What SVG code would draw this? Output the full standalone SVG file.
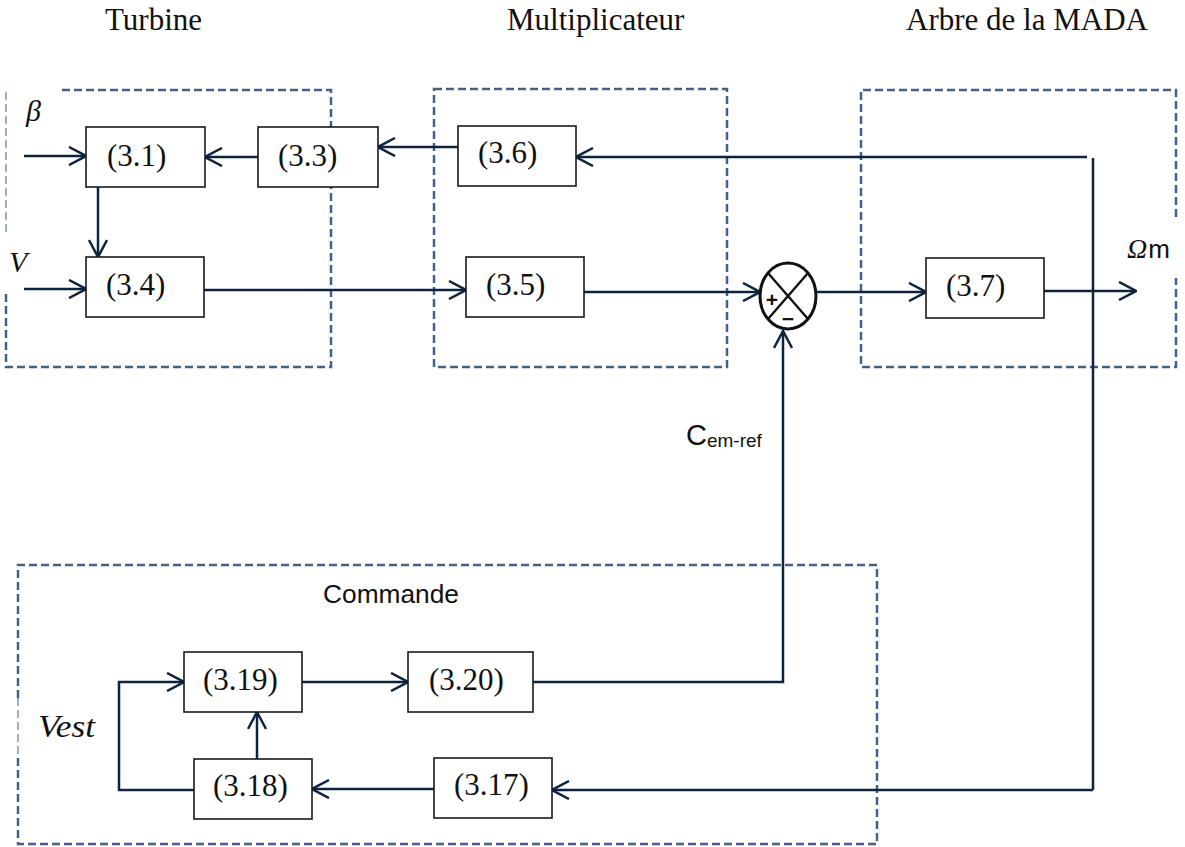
<svg xmlns="http://www.w3.org/2000/svg" width="1185" height="847" viewBox="0 0 1185 847">
<defs>
<style>
.blk{fill:#fff;stroke:#1a1a1a;stroke-width:1.6}
.lbl{font-family:"Liberation Serif","Times New Roman",serif;font-size:31px;fill:#111}
.ttl{font-family:"Liberation Serif","Times New Roman",serif;font-size:31px;fill:#111}
.sans{font-family:"Liberation Sans",Arial,sans-serif;fill:#111}
.ital{font-family:"Liberation Serif","Times New Roman",serif;font-style:italic;fill:#111}
.dash{fill:none;stroke:#41618f;stroke-width:2.5;stroke-dasharray:8 4}
.thin{fill:none;stroke:#5a78a3;stroke-width:1.2;stroke-dasharray:8 4}
.wire{fill:none;stroke:#0d2441;stroke-width:2.5}
.arr{marker-end:url(#ah)}
</style>
<marker id="ah" viewBox="0 0 20 20" refX="19" refY="10" markerWidth="20" markerHeight="20" markerUnits="userSpaceOnUse" orient="auto">
<path d="M2,1 L19,10 L2,19" fill="none" stroke="#0d2441" stroke-width="2.5"/>
</marker>
</defs>
<rect width="1185" height="847" fill="#fff"/>

<g id="titles">
<text class="ttl" x="105" y="30">Turbine</text>
<text class="ttl" x="507" y="30">Multiplicateur</text>
<text class="ttl" x="906" y="30">Arbre de la MADA</text>
</g>

<g id="group-turbine">
<path class="dash" d="M62,90 H331 V367 H6 V293"/>
<path class="thin" d="M6,232 V90"/>
</g>
<g id="group-multiplicateur">
<rect class="dash" x="434" y="89" width="293" height="278"/>
</g>
<g id="group-arbre">
<path class="dash" d="M1176,217 V90 H861 V367 H1176 V278"/>
</g>
<g id="group-commande">
<path class="dash" d="M18,698 V565 H877 V844 H18 V757"/>
<path class="thin" d="M18,698 V757"/>
<text class="sans" x="323" y="603" font-size="26" textLength="136" lengthAdjust="spacingAndGlyphs">Commande</text>
</g>

<g id="connectors">
<path class="wire arr" d="M24,156 H86"/>
<path class="wire arr" d="M24,289 H86"/>
<path class="wire arr" d="M258,157 H205"/>
<path class="wire arr" d="M458,147 H378"/>
<path class="wire arr" d="M98,187 V257"/>
<path class="wire arr" d="M204,290 H466"/>
<path class="wire arr" d="M584,292 H760"/>
<path class="wire arr" d="M817,292 H926"/>
<path class="wire arr" d="M1044,291 H1136"/>
<path class="wire arr" d="M1087,157 H576"/>
<path class="wire" d="M1093,158 V790"/>
<path class="wire arr" d="M1093,790 H552"/>
<path class="wire arr" d="M533,682 H783 V331"/>
<path class="wire arr" d="M302,682 H408"/>
<path class="wire arr" d="M434,789 H312"/>
<path class="wire arr" d="M194,790 H119 V682 H184"/>
<path class="wire arr" d="M257,759 V712"/>
</g>

<g id="n31"><rect class="blk" x="86" y="127" width="119" height="60"/><text class="lbl" x="107" y="166">(3.1)</text></g>
<g id="n33"><rect class="blk" x="258" y="127" width="120" height="60"/><text class="lbl" x="278" y="166">(3.3)</text></g>
<g id="n34"><rect class="blk" x="86" y="257" width="118" height="60"/><text class="lbl" x="106" y="295">(3.4)</text></g>
<g id="n36"><rect class="blk" x="458" y="126" width="118" height="60"/><text class="lbl" x="478" y="163">(3.6)</text></g>
<g id="n35"><rect class="blk" x="466" y="257" width="118" height="60"/><text class="lbl" x="486" y="295">(3.5)</text></g>
<g id="n37"><rect class="blk" x="926" y="258" width="118" height="60"/><text class="lbl" x="946" y="296">(3.7)</text></g>
<g id="n319"><rect class="blk" x="184" y="652" width="118" height="60"/><text class="lbl" x="203" y="690">(3.19)</text></g>
<g id="n320"><rect class="blk" x="408" y="652" width="125" height="60"/><text class="lbl" x="429" y="690">(3.20)</text></g>
<g id="n318"><rect class="blk" x="194" y="759" width="118" height="60"/><text class="lbl" x="213" y="796">(3.18)</text></g>
<g id="n317"><rect class="blk" x="434" y="758" width="118" height="60"/><text class="lbl" x="454" y="795">(3.17)</text></g>

<g id="sum">
<ellipse cx="788" cy="296" rx="28" ry="33" fill="#fff" stroke="#111" stroke-width="3"/>
<path d="M768,273 L808,319 M808,273 L768,319" stroke="#111" stroke-width="2.4"/>
<text class="sans" x="772" y="307" font-size="21" font-weight="bold" text-anchor="middle">+</text>
<text class="sans" x="788" y="326" font-size="21" font-weight="bold" text-anchor="middle">−</text>
</g>

<g id="labels">
<text class="ital" x="26" y="121" font-size="30">β</text>
<text class="ital" x="9" y="272" font-size="30">V</text>
<text class="ital" x="38" y="737" font-size="31" textLength="57" lengthAdjust="spacingAndGlyphs">Vest</text>
<text x="1127" y="258" font-size="28"><tspan class="ital">Ω</tspan><tspan class="sans" dx="1" font-size="26">m</tspan></text>
<text class="sans" x="686" y="445" font-size="29">C<tspan font-size="19" dy="2">em-ref</tspan></text>
</g>
</svg>
